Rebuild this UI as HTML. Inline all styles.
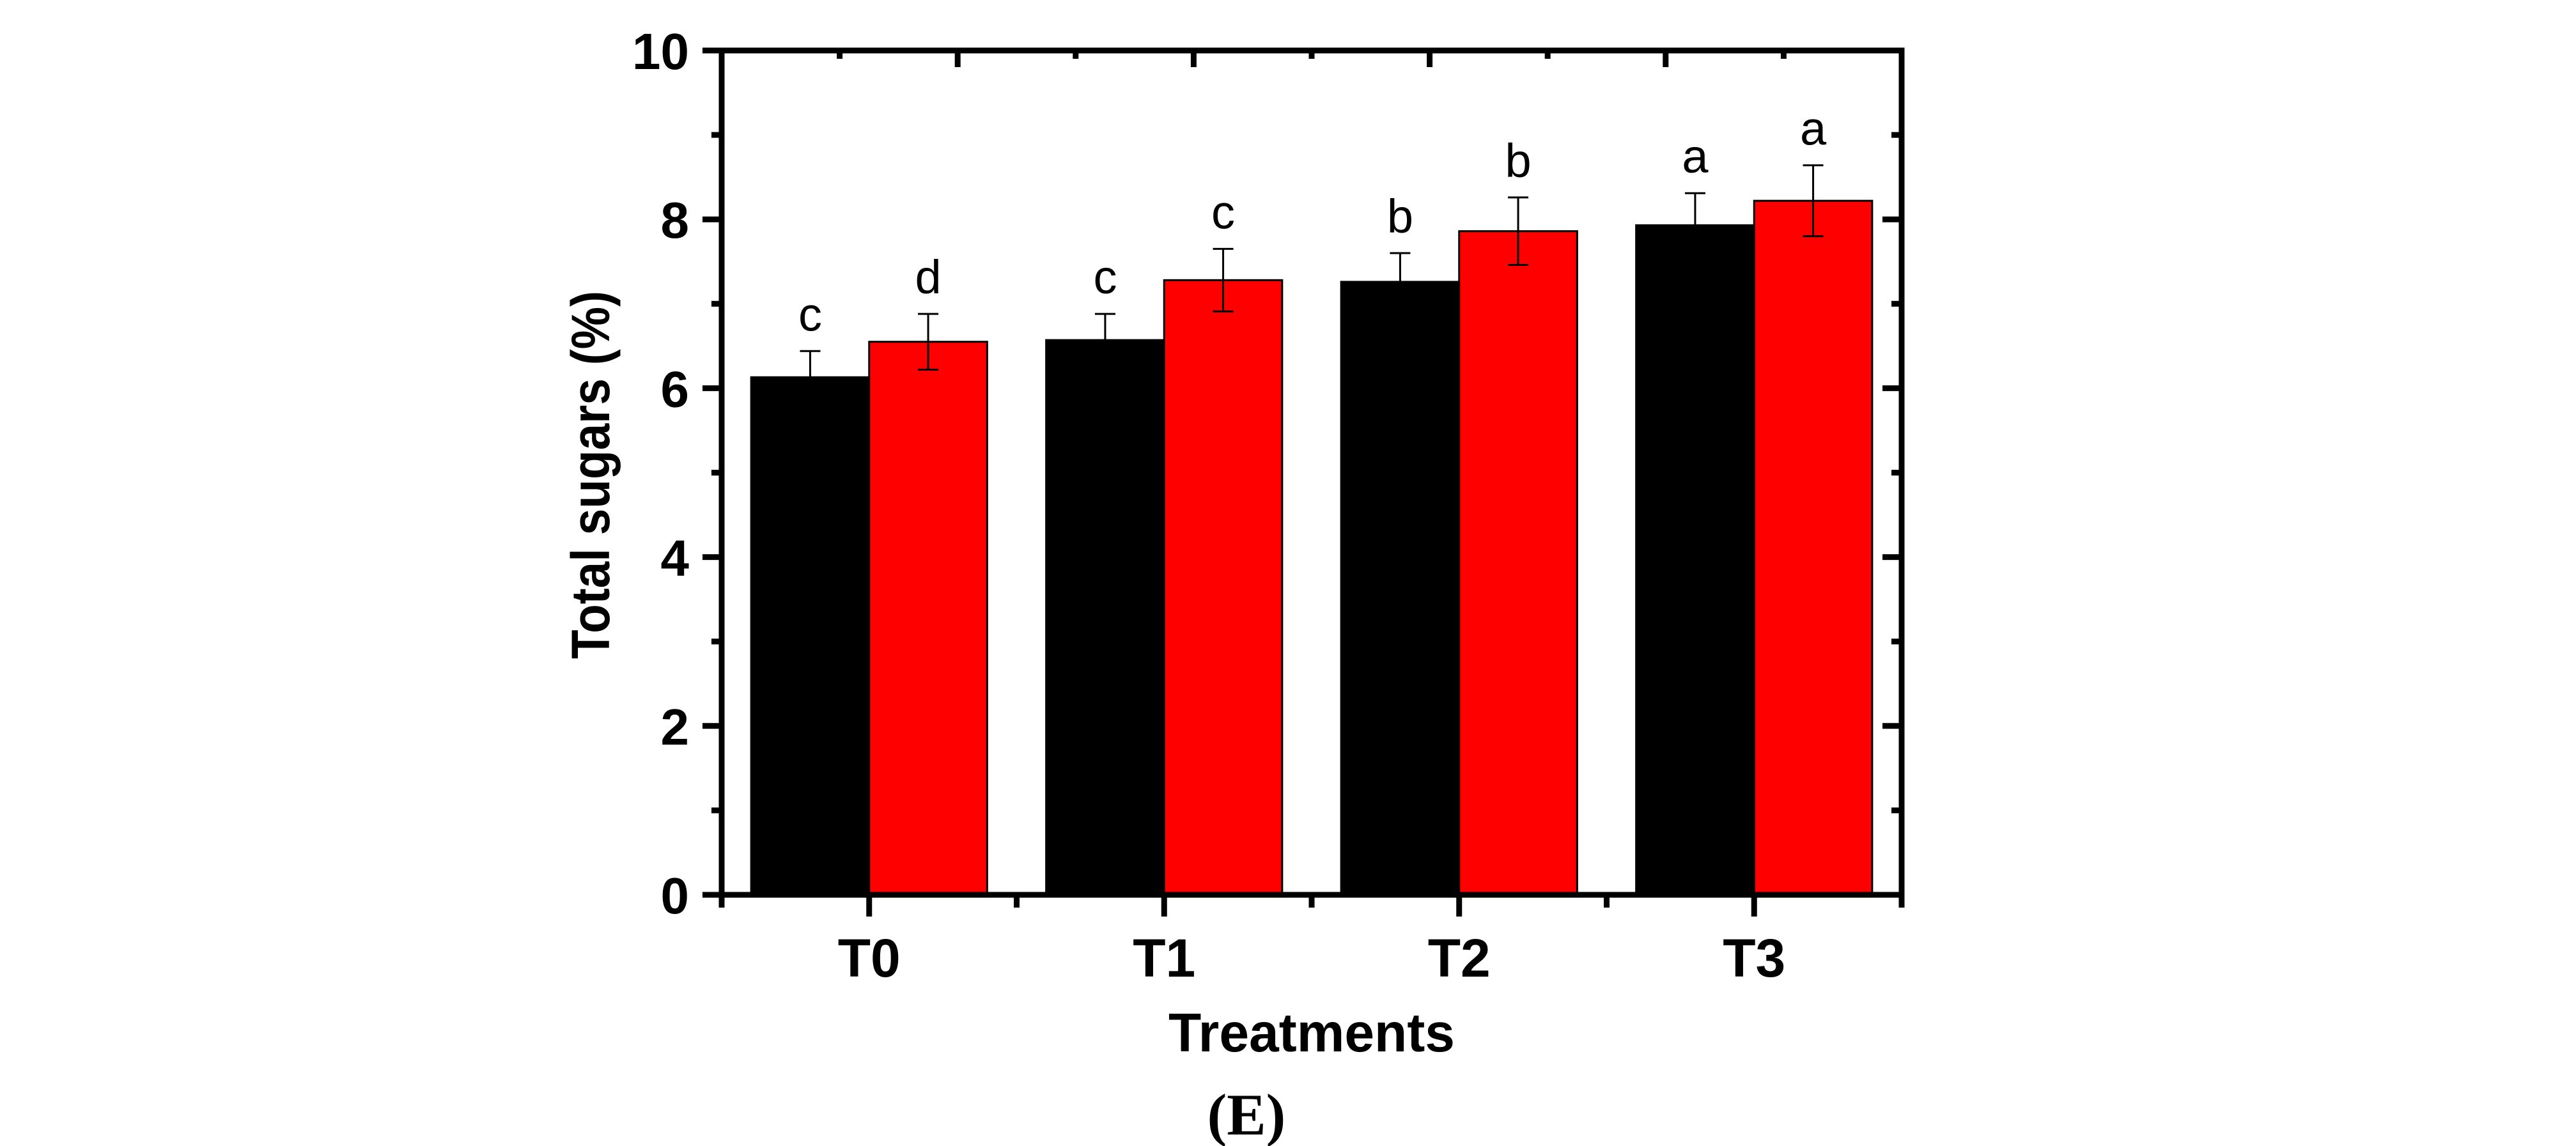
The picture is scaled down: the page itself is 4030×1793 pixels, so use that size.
<!DOCTYPE html>
<html><head><meta charset="utf-8"><style>
html,body{margin:0;padding:0;background:#fff;}
svg{display:block;}
</style></head><body>
<svg id="chart" width="4030" height="1793" viewBox="0 0 4030 1793" xmlns="http://www.w3.org/2000/svg" font-family="Liberation Sans, Arial, sans-serif">
<rect x="0" y="0" width="4030" height="1793" fill="#fff"/>
<g id="bars"></g>
<g id="errs"></g>
<g id="letters"></g>
<g id="axes"></g>
<text x="0" y="0" transform="translate(953,1031) rotate(-90)" font-size="84" font-weight="bold" textLength="576" lengthAdjust="spacingAndGlyphs">Total sugars (%)</text>
<text x="2052" y="1645" font-size="85" font-weight="bold" text-anchor="middle" textLength="448" lengthAdjust="spacingAndGlyphs">Treatments</text>
<text x="1950" y="1775" font-size="92" font-weight="bold" text-anchor="middle" font-family="Liberation Serif, serif">(E)</text>
</svg>
<script>
const categories = ["T0","T1","T2","T3"];
const seriesA = [6.13, 6.57, 7.26, 7.93];
const seriesB = [6.55, 7.28, 7.86, 8.22];
const errA = [0.31, 0.31, 0.34, 0.38];
const errB = [0.33, 0.37, 0.40, 0.42];
const lettersA = ["c","c","b","a"];
const lettersB = ["d","c","b","a"];
const yTicks = [0, 2, 4, 6, 8, 10];

const NS = "http://www.w3.org/2000/svg";
const X0 = 1129, X1 = 2975, Y0 = 1400, Y10 = 79;
function xScale(i){ return X0 + (i + 0.5) * (X1 - X0) / categories.length; }
function yScale(v){ return Y0 - v * (Y0 - Y10) / 10; }
const BW = (X1 - X0) / categories.length * 0.4;
function mk(tag, attrs, parent){
  const e = document.createElementNS(NS, tag);
  for (const k in attrs) e.setAttribute(k, attrs[k]);
  parent.appendChild(e);
  return e;
}
const gBars = document.getElementById('bars');
const gErr = document.getElementById('errs');
const gLet = document.getElementById('letters');
const gAx = document.getElementById('axes');

categories.forEach((c, i) => {
  const cx = xScale(i);
  [[seriesA, errA, lettersA, '#000', cx - BW, 'a'], [seriesB, errB, lettersB, '#ff0000', cx, 'b']].forEach(s => {
    const v = s[0][i], e = s[1][i];
    const r = mk('rect', {x: s[4], y: yScale(v), width: BW, height: yScale(0) - yScale(v), fill: s[3], stroke: '#000', 'stroke-width': 3}, gBars);
    
    
    const mx = s[4] + BW / 2;
    const ln = mk('path', {d: `M${mx},${yScale(v + e)}V${yScale(v - e)}M${mx - 16},${yScale(v + e)}h32M${mx - 16},${yScale(v - e)}h32`, stroke: '#000', 'stroke-width': 3, fill: 'none'}, gErr);
    
    
    const t = mk('text', {x: mx, y: yScale(v + e) - 32, 'font-size': 74, 'text-anchor': 'middle'}, gLet);
    t.textContent = s[2][i];
    
    
  });
  const tl = mk('text', {x: cx, y: 1528, 'font-size': 84, 'font-weight': 'bold', 'text-anchor': 'middle'}, gAx);
  tl.textContent = c;
  
  
  mk('line', {x1: cx, x2: cx, y1: Y0, y2: Y0 + 34, stroke: '#000', 'stroke-width': 9}, gAx);
});
for (let i = 0; i <= categories.length; i++) {
  const x = xScale(i - 0.5);
  mk('line', {x1: x, x2: x, y1: Y0, y2: Y0 + 20, stroke: '#000', 'stroke-width': 9}, gAx);
}
for (let k = 0; k <= 10; k++) {
  const x = X0 + k * (X1 - X0) / 10;
  mk('line', {x1: x, x2: x, y1: Y10, y2: Y10 + (k % 2 === 0 ? 26 : 13), stroke: '#000', 'stroke-width': 9}, gAx);
}
yTicks.forEach(v => {
  const y = yScale(v);
  mk('line', {x1: X0 - 30, x2: X0, y1: y, y2: y, stroke: '#000', 'stroke-width': 9}, gAx);
  mk('line', {x1: X1 - 30, x2: X1, y1: y, y2: y, stroke: '#000', 'stroke-width': 9}, gAx);
  const t = mk('text', {x: 1078, y: y + 29, 'font-size': 80, 'font-weight': 'bold', 'text-anchor': 'end'}, gAx);
  t.textContent = v;
  
  
  if (v < 10) {
    const ym = yScale(v + 1);
    mk('line', {x1: X0 - 16, x2: X0, y1: ym, y2: ym, stroke: '#000', 'stroke-width': 9}, gAx);
    mk('line', {x1: X1 - 16, x2: X1, y1: ym, y2: ym, stroke: '#000', 'stroke-width': 9}, gAx);
  }
});
const frame = mk('rect', {x: X0, y: Y10, width: X1 - X0, height: Y0 - Y10, fill: 'none', stroke: '#000', 'stroke-width': 9}, gAx);


</script>
</body></html>
